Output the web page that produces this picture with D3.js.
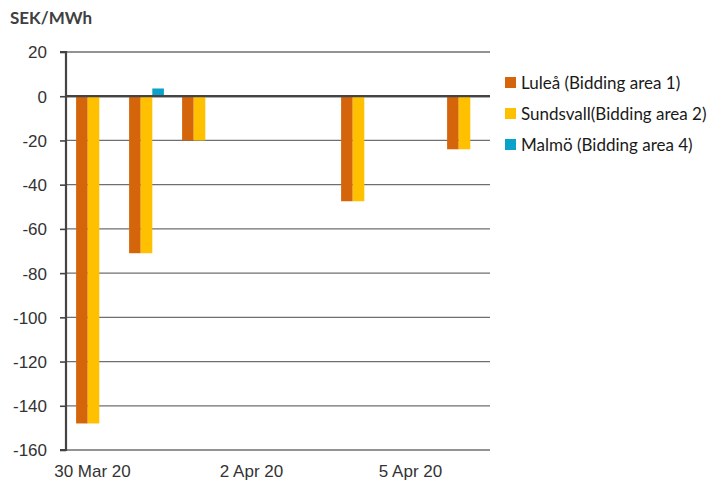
<!DOCTYPE html>
<html><head><meta charset="utf-8">
<script src="https://cdn.jsdelivr.net/npm/d3@7"></script>
<style>body{margin:0;background:#fff}svg{display:block;font-family:Lato,"Open Sans",sans-serif}</style>
</head><body><svg id="c" width="712" height="484"></svg>
<script>
const categories = ["30 Mar 20","31 Mar 20","1 Apr 20","2 Apr 20","3 Apr 20","4 Apr 20","5 Apr 20","6 Apr 20"];
const lulea = [-148, -71, -20, 0, 0, -47.5, 0, -24];
const sundsvall = [-148, -71, -20, 0, 0, -47.5, 0, -24];
const malmo = [0, 3.5, 0, 0, 0, 0, 0, 0];
const seriesNames = ["Luleå (Bidding area 1)", "Sundsvall(Bidding area 2)", "Malmö (Bidding area 4)"];
const colors = ["#D4650A", "#FFC000", "#0AA2CB"];
const yTicks = [20,0,-20,-40,-60,-80,-100,-120,-140,-160];
const xLabelShown = ["30 Mar 20","2 Apr 20","5 Apr 20"];

const svg = d3.select("#c");
const m = {l:66, r:490, t:52, b:450};
const x = d3.scaleBand().domain(categories).range([m.l, m.r]).paddingInner(0).paddingOuter(0);
const y = d3.scaleLinear().domain([-160, 20]).range([m.b, m.t]);
const series = [lulea, sundsvall, malmo];
const bw = 11.6;

// gridlines
svg.append("g").selectAll("line").data(yTicks).join("line")
  .attr("x1", m.l).attr("x2", m.r).attr("y1", d=>y(d)).attr("y2", d=>y(d))
  .attr("stroke", d=>d===0?"#444":"#6f6f6f").attr("stroke-width", d=>d===0?2.2:1.3);

// bars
series.forEach((vals, si) => {
  svg.append("g").selectAll("rect").data(vals.map((v,i)=>({v, c:categories[i]})).filter(d=>d.v!==0)).join("rect")
    .attr("x", d => x(d.c) + x.bandwidth()/2 - 1.5*bw + si*bw + 1)
    .attr("width", bw)
    .attr("y", d => Math.min(y(d.v), y(0)))
    .attr("height", d => Math.abs(y(d.v) - y(0)))
    .attr("fill", colors[si]);
});
svg.append("line").attr("x1", m.l).attr("x2", m.r).attr("y1", y(0)).attr("y2", y(0)).attr("stroke","#444").attr("stroke-width",2.2);

// y axis
const ya = d3.axisLeft(y).tickValues(yTicks).tickSize(6).tickPadding(13).tickFormat(d => String(d));
const gy = svg.append("g").attr("transform", `translate(${m.l},0)`).call(ya);
gy.select(".domain").attr("stroke","#444").attr("stroke-width",2.2).attr("d", `M-6,${y(20)}H0V${y(-160)}H-6`);
gy.selectAll(".tick line").attr("stroke","#444").attr("stroke-width",1.6);
gy.selectAll("text").attr("font-size", 17).attr("fill","#333").attr("dy","0.35em");

// x axis labels
const xa = d3.axisBottom(x).tickValues(xLabelShown).tickSize(0).tickPadding(15);
const gx = svg.append("g").attr("transform", `translate(0,${m.b})`).call(xa);
gx.select(".domain").remove();
gx.selectAll("text").attr("font-size", 17).attr("fill","#333");

// title
svg.append("text").attr("x", 10).attr("y", 24).text("SEK/MWh")
  .attr("font-size", 17).attr("font-weight", "bold").attr("fill","#404040");

// legend
const lg = svg.append("g");
seriesNames.forEach((n,i) => {
  const yy = 83 + i*31;
  lg.append("rect").attr("x", 505).attr("y", yy-6).attr("width", 11).attr("height", 11).attr("fill", colors[i]);
  lg.append("text").attr("x", 521).attr("y", yy).attr("dy","0.35em").text(n).attr("font-size", 17).attr("fill","#1a1a1a");
});
</script></body></html>
